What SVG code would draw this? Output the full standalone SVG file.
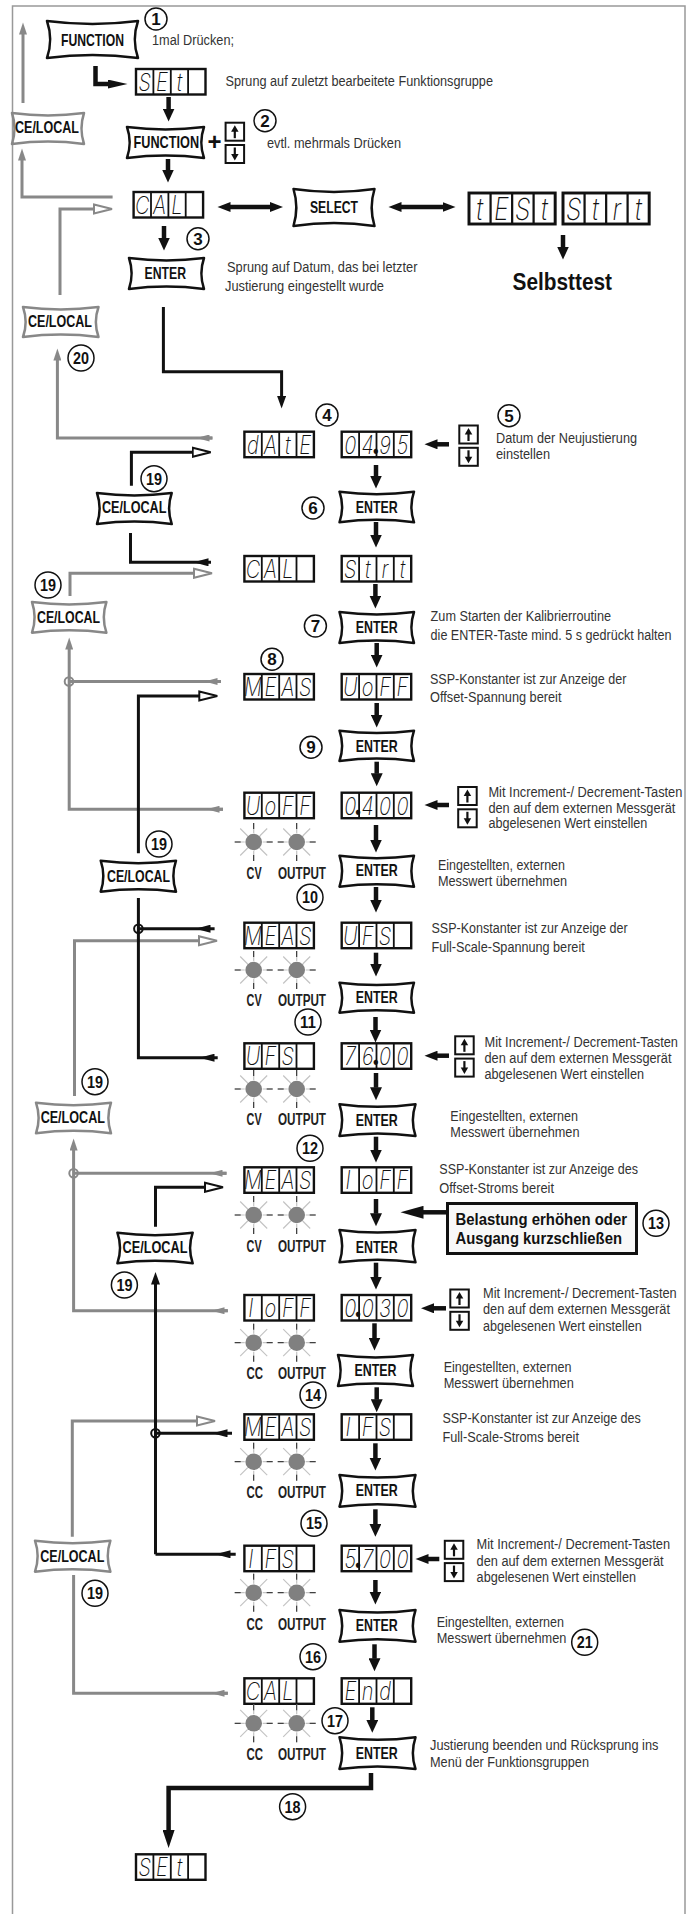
<svg xmlns="http://www.w3.org/2000/svg" width="686" height="1914" viewBox="0 0 686 1914">
<style>
text{font-family:"Liberation Sans Narrow","Liberation Sans",Arial,sans-serif}
.t{font-size:14px;fill:#333}
.ts{font-size:12px;fill:#333}
.bt{font-size:16.5px;font-weight:700;fill:#111;text-anchor:middle}
.lb{font-size:16px;font-weight:700;fill:#222}
.lcd{font-family:Inter,"Liberation Sans",sans-serif;font-size:25px;font-weight:200;font-style:italic;fill:#111;text-anchor:middle;transform:scale(.8,1)}
.dot{font-weight:900;font-style:normal;font-size:27px}
.big{font-size:23px;font-weight:700;fill:#111}
.bx{font-size:17px;font-weight:700;fill:#111}
.n circle{fill:#fff;stroke:#111;stroke-width:1.5}
.n text{font-size:17px;font-weight:700;fill:#111;text-anchor:middle}
.k,.g,.ht,.j{fill:none}
.k{stroke:#111;stroke-width:3}
.g{stroke:#888;stroke-width:3}
.v{stroke:#111;stroke-width:4.5;fill:none}
.fr{fill:#fff;stroke:#111;stroke-width:2.4}
.sep{stroke:#111;stroke-width:1.8;fill:none}
.bk{fill:#fff;stroke:#111;stroke-width:2.5;stroke-linejoin:round}
.bg{fill:#fff;stroke:#888;stroke-width:2.5;stroke-linejoin:round}
.ud rect{fill:#fff;stroke:#111;stroke-width:2}
.jk{fill:none;stroke:#111;stroke-width:2}
.jg{fill:none;stroke:#888;stroke-width:2}
.ray1{stroke:#c4c4c4;stroke-width:1.2;fill:none}
.ray2{stroke:#222;stroke-width:1;fill:none}
</style>
<defs>
<marker id="a" markerUnits="userSpaceOnUse" markerWidth="14" markerHeight="12" refX="0.5" refY="6" orient="auto"><path d="M0 0L13 6L0 12Z" fill="#111"/></marker>
<marker id="a2" markerUnits="userSpaceOnUse" markerWidth="14" markerHeight="10" refX="0.5" refY="5" orient="auto-start-reverse"><path d="M0 0L13 5L0 10Z" fill="#111"/></marker>
<marker id="l" markerUnits="userSpaceOnUse" markerWidth="21" markerHeight="9" refX="0.5" refY="4.5" orient="auto"><path d="M0 0L20 4.5L0 9Z" fill="#111"/></marker>
<marker id="t" markerUnits="userSpaceOnUse" markerWidth="18" markerHeight="12" refX="0.5" refY="6" orient="auto"><path d="M0 0L18 6L0 12Z" fill="#111"/></marker>
<marker id="w" markerUnits="userSpaceOnUse" markerWidth="24" markerHeight="13" refX="0.5" refY="6.5" orient="auto"><path d="M0 0L23 6.5L0 13Z" fill="#111"/></marker>
<marker id="k" markerUnits="userSpaceOnUse" markerWidth="13" markerHeight="9" refX="0.5" refY="4.5" orient="auto"><path d="M0 0L12.5 4.5L0 9Z" fill="#111"/></marker>
<marker id="g" markerUnits="userSpaceOnUse" markerWidth="13" markerHeight="8" refX="0.5" refY="4" orient="auto"><path d="M0 0L12 4L0 8Z" fill="#888"/></marker>
<marker id="mk" markerUnits="userSpaceOnUse" markerWidth="16" markerHeight="8" refX="0.5" refY="4" orient="auto"><path d="M0 0L15 4L0 8Z" fill="#111"/></marker>
<marker id="mg" markerUnits="userSpaceOnUse" markerWidth="14" markerHeight="7" refX="0.5" refY="3.5" orient="auto"><path d="M0 0L13 3.5L0 7Z" fill="#888"/></marker>
<marker id="hk" markerUnits="userSpaceOnUse" markerWidth="21" markerHeight="12" refX="1" refY="6" orient="auto"><path d="M1 1.5L19 6L1 10.5Z" fill="#fff" stroke="#111" stroke-width="2"/></marker>
<marker id="hg" markerUnits="userSpaceOnUse" markerWidth="21" markerHeight="12" refX="1" refY="6" orient="auto"><path d="M1 1.5L19 6L1 10.5Z" fill="#fff" stroke="#888" stroke-width="2"/></marker>
<path id="btn" d="M0 0Q50 16 100 0Q93 50 100 100Q50 84 0 100Q7 50 0 0Z" vector-effect="non-scaling-stroke"/>
<g id="fr"><rect class="fr" width="69.5" height="25.5"/><path class="sep" d="M17.4 0V25.5M34.8 0V25.5M52.1 0V25.5"/></g>
<g id="ud" class="ud"><rect width="18.5" height="18"/><path d="M9.2 15.5V8" stroke="#111" stroke-width="2.2"/><path d="M9.2 2.5L5.5 9H13Z" fill="#111"/><rect y="22.3" width="18.5" height="18"/><path d="M9.2 24.8V32.3" stroke="#111" stroke-width="2.2"/><path d="M9.2 37.8L5.5 31.3H13Z" fill="#111"/></g>
<g id="led"><path class="ray1" d="M-19 0H-9M9 0H19M0 -19V-9M0 9V19M-13.5 -13.5L-6 -6M13.5 -13.5L6 -6M-13.5 13.5L-6 6M13.5 13.5L6 6"/><path class="ray2" d="M-19 0H-13M13 0H19M0 -19V-13M0 13V19"/><circle r="8.3" fill="#808080"/></g>
</defs>
<rect width="686" height="1914" fill="#fff"/>
<path id="border" d="M685 1914V6H12.5V1914" fill="none" stroke="#999" stroke-width="1.5"/>

<g id="connectors">
<g id="grey-lines">
<path class="g" d="M23 103V34" marker-end="url(#g)"/>
<path class="g" d="M112.6 197H22V160" marker-end="url(#g)"/>
<path class="g" d="M60 295V209H94" marker-end="url(#hg)"/>
<path class="g" d="M212.4 438H57.4V360" marker-end="url(#g)"/>
<path class="g" d="M212.4 438H209" marker-end="url(#mg)"/>
<path class="g" d="M70 596V573.3H194" marker-end="url(#hg)"/>
<path class="g" d="M223 809.3H69.2V649" marker-end="url(#g)"/>
<path class="g" d="M223 809.3H219" marker-end="url(#mg)"/>
<path class="g" d="M221 681.5H69"/>
<path class="g" d="M221 681.5H217" marker-end="url(#mg)"/>
<path class="g" d="M74.5 1096V940.7H199" marker-end="url(#hg)"/>
<path class="g" d="M227.8 1310.7H73.6V1150" marker-end="url(#g)"/>
<path class="g" d="M227.8 1310.7H224" marker-end="url(#mg)"/>
<path class="g" d="M226.5 1173.3H73.6"/>
<path class="g" d="M226.5 1173.3H222" marker-end="url(#mg)"/>
<path class="g" d="M72.3 1536.7V1421H197" marker-end="url(#hg)"/>
<path class="g" d="M73.6 1575V1693.3H227.8"/>
<path class="g" d="M227.8 1693.3H224" marker-end="url(#mg)"/>
<circle class="jg" cx="69" cy="681.5" r="4.3"/>
<circle class="jg" cx="73.6" cy="1173.3" r="4.3"/>
</g>
<g id="black-lines">
<path class="k" d="M163.4 307V371.7H281.6V396.5" marker-end="url(#k)"/>
<path class="k" d="M131.4 485.7V452.3H192.7" marker-end="url(#hk)"/>
<path class="k" d="M130.5 533V562.3H211H208" marker-end="url(#mk)"/>
<path class="k" d="M138.4 853.3V696H199.3" marker-end="url(#hk)"/>
<path class="k" d="M138.4 898V1057.7H217.7H214" marker-end="url(#mk)"/>
<path class="k" d="M138.4 928.7H214.6H210" marker-end="url(#mk)"/>
<path class="k" d="M155.5 1226.7V1187.3H205" marker-end="url(#hk)"/>
<path class="k" d="M155.5 1554.3V1284" marker-end="url(#k)"/>
<path class="k" d="M155.5 1554.3H235.7H230" marker-end="url(#mk)"/>
<path class="k" d="M155.5 1433.3H232H227" marker-end="url(#mk)"/>
<circle class="jk" cx="138.4" cy="928.7" r="4.3"/>
<circle class="jk" cx="155.5" cy="1433.3" r="4.3"/>
</g>
<g id="flow-arrows">
<path class="v" stroke-width="5" d="M95.5 66V84H108" marker-end="url(#l)"/>
<path class="v" d="M168.6 97V109" marker-end="url(#a)"/>
<path class="v" d="M168 159V170" marker-end="url(#a)"/>
<path class="v" d="M164 226V238" marker-end="url(#a)"/>
<path class="v" d="M563 235V247" marker-end="url(#a)"/>
<path class="v" d="M376 465V476" marker-end="url(#a)"/>
<path class="v" d="M376 522V535" marker-end="url(#a)"/>
<path class="v" d="M375.4 584V596" marker-end="url(#a)"/>
<path class="v" d="M376.7 643V655" marker-end="url(#a)"/>
<path class="v" d="M376.7 703V715" marker-end="url(#a)"/>
<path class="v" d="M376.7 761.7V773.7" marker-end="url(#a)"/>
<path class="v" d="M376 825V840" marker-end="url(#a)"/>
<path class="v" d="M376 887V900" marker-end="url(#a)"/>
<path class="v" d="M376 952.7V964" marker-end="url(#a)"/>
<path class="v" d="M375.5 1017V1030" marker-end="url(#a)"/>
<path class="v" d="M376 1073V1087.7" marker-end="url(#a)"/>
<path class="v" d="M376 1136.7V1150" marker-end="url(#a)"/>
<path class="v" d="M376 1199V1213.7" marker-end="url(#a)"/>
<path class="v" d="M376 1262.7V1277" marker-end="url(#a)"/>
<path class="v" d="M374.5 1323.3V1338" marker-end="url(#a)"/>
<path class="v" d="M376.7 1387.3V1399.7" marker-end="url(#a)"/>
<path class="v" d="M375.4 1443.3V1458" marker-end="url(#a)"/>
<path class="v" d="M375.4 1509.3V1524.3" marker-end="url(#a)"/>
<path class="v" d="M375.4 1580V1592" marker-end="url(#a)"/>
<path class="v" d="M374.5 1644.3V1658.7" marker-end="url(#a)"/>
<path class="v" d="M372.3 1707.3V1720.3" marker-end="url(#a)"/>
<path class="v" d="M230 207H270.5" marker-start="url(#a2)" marker-end="url(#a2)"/>
<path class="v" d="M401 207H443" marker-start="url(#a2)" marker-end="url(#a2)"/>
<path class="v" d="M449 444.3H437" marker-end="url(#a2)"/>
<path class="v" d="M449 805H437" marker-end="url(#a2)"/>
<path class="v" d="M449 1055.7H437" marker-end="url(#a2)"/>
<path class="v" d="M446 1308.3H433.5" marker-end="url(#a2)"/>
<path class="v" d="M439.3 1559H428" marker-end="url(#a2)"/>
<path class="v" d="M446.8 1212.3H423" marker-end="url(#w)"/>
<path class="v" stroke-width="5.5" d="M371 1773V1788H168.6V1830.5" marker-end="url(#t)"/>
</g>
</g>

<g id="btn-function1"><use href="#btn" class="bk" transform="translate(47,21) scale(.91,.37)"/><text class="bt" x="92.5" y="46" textLength="63" lengthAdjust="spacingAndGlyphs">FUNCTION</text></g>
<g id="btn-function2"><use href="#btn" class="bk" transform="translate(127,127) scale(.77,.31)"/><text class="bt" x="166.3" y="148" textLength="65.5" lengthAdjust="spacingAndGlyphs">FUNCTION</text></g>
<g id="btn-select"><use href="#btn" class="bk" transform="translate(293.5,189) scale(.81,.37)"/><text class="bt" x="334" y="213" textLength="48" lengthAdjust="spacingAndGlyphs">SELECT</text></g>
<g id="btn-enter1"><use href="#btn" class="bk" transform="translate(129,258) scale(.75,.31)"/><text class="bt" x="165.3" y="279" textLength="41.5" lengthAdjust="spacingAndGlyphs">ENTER</text></g>
<g id="btn-enter2"><use href="#btn" class="bk" transform="translate(339.5,491.7) scale(.745,.306)"/><text class="bt" x="376.7" y="512.7" textLength="42" lengthAdjust="spacingAndGlyphs">ENTER</text></g>
<g id="btn-enter3"><use href="#btn" class="bk" transform="translate(339.5,612) scale(.745,.31)"/><text class="bt" x="376.7" y="633" textLength="42" lengthAdjust="spacingAndGlyphs">ENTER</text></g>
<g id="btn-enter4"><use href="#btn" class="bk" transform="translate(339.5,730.7) scale(.745,.303)"/><text class="bt" x="376.7" y="751.7" textLength="42" lengthAdjust="spacingAndGlyphs">ENTER</text></g>
<g id="btn-enter5"><use href="#btn" class="bk" transform="translate(339.5,855.7) scale(.745,.31)"/><text class="bt" x="376.7" y="876" textLength="42" lengthAdjust="spacingAndGlyphs">ENTER</text></g>
<g id="btn-enter6"><use href="#btn" class="bk" transform="translate(339.5,982.7) scale(.745,.30)"/><text class="bt" x="376.7" y="1003.3" textLength="42" lengthAdjust="spacingAndGlyphs">ENTER</text></g>
<g id="btn-enter7"><use href="#btn" class="bk" transform="translate(339.5,1104.3) scale(.76,.317)"/><text class="bt" x="376.7" y="1125.7" textLength="42" lengthAdjust="spacingAndGlyphs">ENTER</text></g>
<g id="btn-enter8"><use href="#btn" class="bk" transform="translate(339.5,1230) scale(.76,.323)"/><text class="bt" x="376.7" y="1252.7" textLength="42" lengthAdjust="spacingAndGlyphs">ENTER</text></g>
<g id="btn-enter9"><use href="#btn" class="bk" transform="translate(338,1355) scale(.75,.31)"/><text class="bt" x="375.5" y="1376" textLength="42" lengthAdjust="spacingAndGlyphs">ENTER</text></g>
<g id="btn-enter10"><use href="#btn" class="bk" transform="translate(339.5,1475) scale(.76,.317)"/><text class="bt" x="376.7" y="1496" textLength="42" lengthAdjust="spacingAndGlyphs">ENTER</text></g>
<g id="btn-enter11"><use href="#btn" class="bk" transform="translate(339.5,1610) scale(.76,.317)"/><text class="bt" x="376.7" y="1631" textLength="42" lengthAdjust="spacingAndGlyphs">ENTER</text></g>
<g id="btn-enter12"><use href="#btn" class="bk" transform="translate(339.5,1737.3) scale(.76,.317)"/><text class="bt" x="376.7" y="1759" textLength="42" lengthAdjust="spacingAndGlyphs">ENTER</text></g>

<g id="btn-ce1"><use href="#btn" class="bg" transform="translate(12,113) scale(.72,.31)"/><text class="bt" x="47" y="133" textLength="64" lengthAdjust="spacingAndGlyphs">CE/LOCAL</text></g>
<g id="btn-ce2"><use href="#btn" class="bg" transform="translate(23,307) scale(.755,.30)"/><text class="bt" x="60" y="327" textLength="64" lengthAdjust="spacingAndGlyphs">CE/LOCAL</text></g>
<g id="btn-ce3"><use href="#btn" class="bk" transform="translate(97,493) scale(.747,.31)"/><text class="bt" x="134.2" y="513" textLength="64.5" lengthAdjust="spacingAndGlyphs">CE/LOCAL</text></g>
<g id="btn-ce4"><use href="#btn" class="bg" transform="translate(32,602) scale(.744,.307)"/><text class="bt" x="68.5" y="622.7" textLength="63" lengthAdjust="spacingAndGlyphs">CE/LOCAL</text></g>
<g id="btn-ce5"><use href="#btn" class="bk" transform="translate(100.7,860.7) scale(.753,.31)"/><text class="bt" x="138.5" y="882.3" textLength="63" lengthAdjust="spacingAndGlyphs">CE/LOCAL</text></g>
<g id="btn-ce6"><use href="#btn" class="bg" transform="translate(36,1102.7) scale(.75,.306)"/><text class="bt" x="72.8" y="1122.7" textLength="64.3" lengthAdjust="spacingAndGlyphs">CE/LOCAL</text></g>
<g id="btn-ce7"><use href="#btn" class="bk" transform="translate(117.4,1232.7) scale(.753,.306)"/><text class="bt" x="155" y="1252.7" textLength="65" lengthAdjust="spacingAndGlyphs">CE/LOCAL</text></g>
<g id="btn-ce8"><use href="#btn" class="bg" transform="translate(35,1540.7) scale(.754,.31)"/><text class="bt" x="72.3" y="1561.7" textLength="64" lengthAdjust="spacingAndGlyphs">CE/LOCAL</text></g>

<g id="disp-set1" transform="translate(136,69)"><use href="#fr"/><text class="lcd" x="10.8 32.5 54.2 75.9" y="22">SEt</text></g>
<g id="disp-cal1" transform="translate(133.6,192)"><use href="#fr"/><text class="lcd" x="10.8 32.5 54.2 75.9" y="22">CAL</text></g>
<g id="disp-test" transform="translate(469,193) scale(1.24,1.216)"><use href="#fr"/><text class="lcd" x="10.8 32.5 54.2 75.9" y="22">tESt</text></g>
<g id="disp-strt1" transform="translate(563,193) scale(1.24,1.216)"><use href="#fr"/><text class="lcd" x="10.8 32.5 54.2 75.9" y="22">Strt</text></g>
<g id="disp-date" transform="translate(244.4,431.7)"><use href="#fr"/><text class="lcd" x="10.8 32.5 54.2 75.9" y="22">dAtE</text></g>
<g id="disp-0495" transform="translate(341.7,431.7)"><use href="#fr"/><text class="lcd" x="10.8 32.5 42.5 54.2 75.9" y="22">04<tspan class="dot">.</tspan>95</text></g>
<g id="disp-cal2" transform="translate(244.4,556)"><use href="#fr"/><text class="lcd" x="10.8 32.5 54.2 75.9" y="22">CAL</text></g>
<g id="disp-strt2" transform="translate(341.7,556)"><use href="#fr"/><text class="lcd" x="10.8 32.5 54.2 75.9" y="22">Strt</text></g>
<g id="disp-meas1" transform="translate(244.4,674)"><use href="#fr"/><text class="lcd" x="10.8 32.5 54.2 75.9" y="22">MEAS</text></g>
<g id="disp-uoff1" transform="translate(341.7,674)"><use href="#fr"/><text class="lcd" x="10.8 32.5 54.2 75.9" y="22">UoFF</text></g>
<g id="disp-uoff2" transform="translate(244.4,792.7)"><use href="#fr"/><text class="lcd" x="10.8 32.5 54.2 75.9" y="22">UoFF</text></g>
<g id="disp-0400" transform="translate(341.7,792.7)"><use href="#fr"/><text class="lcd" x="10.8 20.5 32.5 54.2 75.9" y="22">0<tspan class="dot">.</tspan>400</text></g>
<g id="disp-meas2" transform="translate(244.4,922.7)"><use href="#fr"/><text class="lcd" x="10.8 32.5 54.2 75.9" y="22">MEAS</text></g>
<g id="disp-ufs1" transform="translate(341.7,922.7)"><use href="#fr"/><text class="lcd" x="10.8 32.5 54.2 75.9" y="22">UFS</text></g>
<g id="disp-ufs2" transform="translate(244.4,1043.3)"><use href="#fr"/><text class="lcd" x="10.8 32.5 54.2 75.9" y="22">UFS</text></g>
<g id="disp-7600" transform="translate(341.7,1043.3)"><use href="#fr"/><text class="lcd" x="10.8 32.5 42.5 54.2 75.9" y="22">76<tspan class="dot">.</tspan>00</text></g>
<g id="disp-meas3" transform="translate(244.4,1167.3)"><use href="#fr"/><text class="lcd" x="10.8 32.5 54.2 75.9" y="22">MEAS</text></g>
<g id="disp-ioff1" transform="translate(341.7,1167.3)"><use href="#fr"/><text class="lcd" x="8 32.5 54.2 75.9" y="22">IoFF</text></g>
<g id="disp-ioff2" transform="translate(244.4,1295)"><use href="#fr"/><text class="lcd" x="8 32.5 54.2 75.9" y="22">IoFF</text></g>
<g id="disp-0030" transform="translate(341.7,1295)"><use href="#fr"/><text class="lcd" x="10.8 20.5 32.5 54.2 75.9" y="22">0<tspan class="dot">.</tspan>030</text></g>
<g id="disp-meas4" transform="translate(244.4,1414.3)"><use href="#fr"/><text class="lcd" x="10.8 32.5 54.2 75.9" y="22">MEAS</text></g>
<g id="disp-ifs1" transform="translate(341.7,1414.3)"><use href="#fr"/><text class="lcd" x="8 32.5 54.2 75.9" y="22">IFS</text></g>
<g id="disp-ifs2" transform="translate(244.4,1545.7)"><use href="#fr"/><text class="lcd" x="8 32.5 54.2 75.9" y="22">IFS</text></g>
<g id="disp-5700" transform="translate(341.7,1545.7)"><use href="#fr"/><text class="lcd" x="10.8 20.5 32.5 54.2 75.9" y="22">5<tspan class="dot">.</tspan>700</text></g>
<g id="disp-cal3" transform="translate(244.4,1678.3)"><use href="#fr"/><text class="lcd" x="10.8 32.5 54.2 75.9" y="22">CAL</text></g>
<g id="disp-end" transform="translate(341.7,1678.3)"><use href="#fr"/><text class="lcd" x="10.8 32.5 54.2 75.9" y="22">End</text></g>
<g id="disp-set2" transform="translate(136,1854.3)"><use href="#fr"/><text class="lcd" x="10.8 32.5 54.2 75.9" y="22">SEt</text></g>

<g id="ud1" transform="translate(225.6,122.7)"><use href="#ud"/></g>
<g id="ud2" transform="translate(459.3,425.5)"><use href="#ud"/></g>
<g id="ud3" transform="translate(458.2,787)"><use href="#ud"/></g>
<g id="ud4" transform="translate(455.2,1036.3)"><use href="#ud"/></g>
<g id="ud5" transform="translate(450.3,1289.5)"><use href="#ud"/></g>
<g id="ud6" transform="translate(444.8,1540.8)"><use href="#ud"/></g>

<g id="leds">
<use href="#led" x="253.7" y="842"/><use href="#led" x="296.7" y="842"/>
<use href="#led" x="253.7" y="970"/><use href="#led" x="296.7" y="970"/>
<use href="#led" x="253.7" y="1089"/><use href="#led" x="296.7" y="1089"/>
<use href="#led" x="253.7" y="1215"/><use href="#led" x="296.7" y="1215"/>
<use href="#led" x="253.7" y="1342.7"/><use href="#led" x="296.7" y="1342.7"/>
<use href="#led" x="253.7" y="1461.7"/><use href="#led" x="296.7" y="1461.7"/>
<use href="#led" x="253.7" y="1592.7"/><use href="#led" x="296.7" y="1592.7"/>
<use href="#led" x="253.7" y="1723.3"/><use href="#led" x="296.7" y="1723.3"/>
</g>
<g id="led-labels">
<text class="lb" x="246.6" y="879" textLength="15" lengthAdjust="spacingAndGlyphs">CV</text><text class="lb" x="278" y="879" textLength="48" lengthAdjust="spacingAndGlyphs">OUTPUT</text>
<text class="lb" x="246.6" y="1005.7" textLength="15" lengthAdjust="spacingAndGlyphs">CV</text><text class="lb" x="278" y="1005.7" textLength="48" lengthAdjust="spacingAndGlyphs">OUTPUT</text>
<text class="lb" x="246.6" y="1125" textLength="15" lengthAdjust="spacingAndGlyphs">CV</text><text class="lb" x="278" y="1125" textLength="48" lengthAdjust="spacingAndGlyphs">OUTPUT</text>
<text class="lb" x="246.6" y="1252.3" textLength="15" lengthAdjust="spacingAndGlyphs">CV</text><text class="lb" x="278" y="1252.3" textLength="48" lengthAdjust="spacingAndGlyphs">OUTPUT</text>
<text class="lb" x="246.6" y="1379" textLength="16.5" lengthAdjust="spacingAndGlyphs">CC</text><text class="lb" x="278" y="1379" textLength="48" lengthAdjust="spacingAndGlyphs">OUTPUT</text>
<text class="lb" x="246.6" y="1497.7" textLength="16.5" lengthAdjust="spacingAndGlyphs">CC</text><text class="lb" x="278" y="1497.7" textLength="48" lengthAdjust="spacingAndGlyphs">OUTPUT</text>
<text class="lb" x="246.6" y="1630" textLength="16.5" lengthAdjust="spacingAndGlyphs">CC</text><text class="lb" x="278" y="1630" textLength="48" lengthAdjust="spacingAndGlyphs">OUTPUT</text>
<text class="lb" x="246.6" y="1760" textLength="16.5" lengthAdjust="spacingAndGlyphs">CC</text><text class="lb" x="278" y="1760" textLength="48" lengthAdjust="spacingAndGlyphs">OUTPUT</text>
</g>

<g id="labels">
<text class="t" x="152" y="45" textLength="82" lengthAdjust="spacingAndGlyphs">1mal Drücken;</text>
<text class="t" x="225.6" y="86" textLength="267.4" lengthAdjust="spacingAndGlyphs">Sprung auf zuletzt bearbeitete Funktionsgruppe</text>
<text class="bt" x="214.6" y="150" style="font-size:24px">+</text>
<text class="t" x="267" y="148" textLength="134" lengthAdjust="spacingAndGlyphs">evtl. mehrmals Drücken</text>
<text class="t" x="227" y="272" textLength="190.4" lengthAdjust="spacingAndGlyphs">Sprung auf Datum, das bei letzter</text>
<text class="t" x="225" y="291" textLength="159" lengthAdjust="spacingAndGlyphs">Justierung eingestellt wurde</text>
<text class="big" x="512.5" y="290" textLength="99.5" lengthAdjust="spacingAndGlyphs">Selbsttest</text>
<text class="t" x="496" y="443" textLength="141" lengthAdjust="spacingAndGlyphs">Datum der Neujustierung</text>
<text class="t" x="496" y="459" textLength="54" lengthAdjust="spacingAndGlyphs">einstellen</text>
<text class="t" x="430.6" y="621" textLength="180.4" lengthAdjust="spacingAndGlyphs">Zum Starten der Kalibrierroutine</text>
<text class="ts" transform="translate(430.6 639.5) scale(1 1.167)" textLength="240.9" lengthAdjust="spacingAndGlyphs">die ENTER-Taste mind. 5 s gedrückt halten</text>
<text class="t" x="430" y="684" textLength="196.4" lengthAdjust="spacingAndGlyphs">SSP-Konstanter ist zur Anzeige der</text>
<text class="t" x="430" y="701.7" textLength="131.5" lengthAdjust="spacingAndGlyphs">Offset-Spannung bereit</text>
<text class="ts" transform="translate(488.4 796.7) scale(1 1.167)" textLength="194" lengthAdjust="spacingAndGlyphs">Mit Increment-/ Decrement-Tasten</text>
<text class="ts" transform="translate(488.4 812.7) scale(1 1.167)" textLength="187" lengthAdjust="spacingAndGlyphs">den auf dem externen Messgerät</text>
<text class="t" x="488.4" y="828.3" textLength="159" lengthAdjust="spacingAndGlyphs">abgelesenen Wert einstellen</text>
<text class="t" x="438" y="870" textLength="127" lengthAdjust="spacingAndGlyphs">Eingestellten, externen</text>
<text class="t" x="438" y="885.7" textLength="129" lengthAdjust="spacingAndGlyphs">Messwert übernehmen</text>
<text class="t" x="431.5" y="933.3" textLength="196.2" lengthAdjust="spacingAndGlyphs">SSP-Konstanter ist zur Anzeige der</text>
<text class="t" x="431.5" y="952.3" textLength="153.2" lengthAdjust="spacingAndGlyphs">Full-Scale-Spannung bereit</text>
<text class="ts" transform="translate(484.5 1046.7) scale(1 1.167)" textLength="193.5" lengthAdjust="spacingAndGlyphs">Mit Increment-/ Decrement-Tasten</text>
<text class="ts" transform="translate(484.5 1062.7) scale(1 1.167)" textLength="187" lengthAdjust="spacingAndGlyphs">den auf dem externen Messgerät</text>
<text class="t" x="484.5" y="1078.7" textLength="159.5" lengthAdjust="spacingAndGlyphs">abgelesenen Wert einstellen</text>
<text class="t" x="450.3" y="1120.7" textLength="127.7" lengthAdjust="spacingAndGlyphs">Eingestellten, externen</text>
<text class="t" x="450.3" y="1136.7" textLength="129.2" lengthAdjust="spacingAndGlyphs">Messwert übernehmen</text>
<text class="t" x="439.3" y="1174.3" textLength="198.7" lengthAdjust="spacingAndGlyphs">SSP-Konstanter ist zur Anzeige des</text>
<text class="t" x="439.3" y="1193.3" textLength="114.7" lengthAdjust="spacingAndGlyphs">Offset-Stroms bereit</text>
<text class="ts" transform="translate(483 1298.3) scale(1 1.167)" textLength="193.7" lengthAdjust="spacingAndGlyphs">Mit Increment-/ Decrement-Tasten</text>
<text class="ts" transform="translate(483 1314.3) scale(1 1.167)" textLength="187" lengthAdjust="spacingAndGlyphs">den auf dem externen Messgerät</text>
<text class="t" x="483" y="1330.7" textLength="158.7" lengthAdjust="spacingAndGlyphs">abgelesenen Wert einstellen</text>
<text class="t" x="443.7" y="1371.7" textLength="127.9" lengthAdjust="spacingAndGlyphs">Eingestellten, externen</text>
<text class="t" x="443.7" y="1387.7" textLength="130.1" lengthAdjust="spacingAndGlyphs">Messwert übernehmen</text>
<text class="t" x="442.4" y="1423.3" textLength="198.4" lengthAdjust="spacingAndGlyphs">SSP-Konstanter ist zur Anzeige des</text>
<text class="t" x="442.4" y="1441.7" textLength="136.6" lengthAdjust="spacingAndGlyphs">Full-Scale-Stroms bereit</text>
<text class="ts" transform="translate(476.6 1549.3) scale(1 1.167)" textLength="193.4" lengthAdjust="spacingAndGlyphs">Mit Increment-/ Decrement-Tasten</text>
<text class="ts" transform="translate(476.6 1565.7) scale(1 1.167)" textLength="187" lengthAdjust="spacingAndGlyphs">den auf dem externen Messgerät</text>
<text class="t" x="476.6" y="1581.7" textLength="159.4" lengthAdjust="spacingAndGlyphs">abgelesenen Wert einstellen</text>
<text class="t" x="436.7" y="1626.7" textLength="127.3" lengthAdjust="spacingAndGlyphs">Eingestellten, externen</text>
<text class="t" x="436.7" y="1642.7" textLength="129.7" lengthAdjust="spacingAndGlyphs">Messwert übernehmen</text>
<text class="t" x="430" y="1750" textLength="228.4" lengthAdjust="spacingAndGlyphs">Justierung beenden und Rücksprung ins</text>
<text class="t" x="430" y="1766.7" textLength="159" lengthAdjust="spacingAndGlyphs">Menü der Funktionsgruppen</text>
</g>

<g id="note-box"><rect x="447.5" y="1203.5" width="189" height="50" fill="#f8f8f8" stroke="#111" stroke-width="3"/><text class="bx" x="455.5" y="1225" textLength="171.5" lengthAdjust="spacingAndGlyphs">Belastung erhöhen oder</text><text class="bx" x="455.5" y="1244" textLength="166.5" lengthAdjust="spacingAndGlyphs">Ausgang kurzschließen</text></g>

<g id="n1" class="n" transform="translate(156,19)"><circle r="11"/><text y="6">1</text></g>
<g id="n2" class="n" transform="translate(265,120.7)"><circle r="11"/><text y="6">2</text></g>
<g id="n3" class="n" transform="translate(198,238.7)"><circle r="11"/><text y="6">3</text></g>
<g id="n4" class="n" transform="translate(327,415)"><circle r="11"/><text y="6">4</text></g>
<g id="n5" class="n" transform="translate(509,415.7)"><circle r="11"/><text y="6">5</text></g>
<g id="n6" class="n" transform="translate(313,508)"><circle r="11"/><text y="6">6</text></g>
<g id="n7" class="n" transform="translate(315.4,626)"><circle r="11"/><text y="6">7</text></g>
<g id="n8" class="n" transform="translate(272,659.3)"><circle r="11"/><text y="6">8</text></g>
<g id="n9" class="n" transform="translate(311,747.3)"><circle r="11"/><text y="6">9</text></g>
<g id="n10" class="n" transform="translate(310,897.3)"><circle r="13"/><text y="6" textLength="16" lengthAdjust="spacingAndGlyphs">10</text></g>
<g id="n11" class="n" transform="translate(308,1022)"><circle r="13"/><text y="6" textLength="16" lengthAdjust="spacingAndGlyphs">11</text></g>
<g id="n12" class="n" transform="translate(310,1148.3)"><circle r="13"/><text y="6" textLength="16" lengthAdjust="spacingAndGlyphs">12</text></g>
<g id="n13" class="n" transform="translate(656,1223.3)"><circle r="13"/><text y="6" textLength="16" lengthAdjust="spacingAndGlyphs">13</text></g>
<g id="n14" class="n" transform="translate(313,1395)"><circle r="13"/><text y="6" textLength="16" lengthAdjust="spacingAndGlyphs">14</text></g>
<g id="n15" class="n" transform="translate(314,1523.3)"><circle r="13"/><text y="6" textLength="16" lengthAdjust="spacingAndGlyphs">15</text></g>
<g id="n16" class="n" transform="translate(313,1656.7)"><circle r="13"/><text y="6" textLength="16" lengthAdjust="spacingAndGlyphs">16</text></g>
<g id="n17" class="n" transform="translate(335,1720.7)"><circle r="13"/><text y="6" textLength="16" lengthAdjust="spacingAndGlyphs">17</text></g>
<g id="n18" class="n" transform="translate(292.6,1806.7)"><circle r="13"/><text y="6" textLength="16" lengthAdjust="spacingAndGlyphs">18</text></g>
<g id="n19a" class="n" transform="translate(154,478.7)"><circle r="13"/><text y="6" textLength="16" lengthAdjust="spacingAndGlyphs">19</text></g>
<g id="n19b" class="n" transform="translate(48,585)"><circle r="13"/><text y="6" textLength="16" lengthAdjust="spacingAndGlyphs">19</text></g>
<g id="n19c" class="n" transform="translate(159,844)"><circle r="13"/><text y="6" textLength="16" lengthAdjust="spacingAndGlyphs">19</text></g>
<g id="n19d" class="n" transform="translate(95,1081.7)"><circle r="13"/><text y="6" textLength="16" lengthAdjust="spacingAndGlyphs">19</text></g>
<g id="n19e" class="n" transform="translate(124.4,1285)"><circle r="13"/><text y="6" textLength="16" lengthAdjust="spacingAndGlyphs">19</text></g>
<g id="n19f" class="n" transform="translate(95,1593.3)"><circle r="13"/><text y="6" textLength="16" lengthAdjust="spacingAndGlyphs">19</text></g>
<g id="n20" class="n" transform="translate(81,358)"><circle r="13"/><text y="6" textLength="16" lengthAdjust="spacingAndGlyphs">20</text></g>
<g id="n21" class="n" transform="translate(584.7,1642.3)"><circle r="13"/><text y="6" textLength="16" lengthAdjust="spacingAndGlyphs">21</text></g>
</svg>
